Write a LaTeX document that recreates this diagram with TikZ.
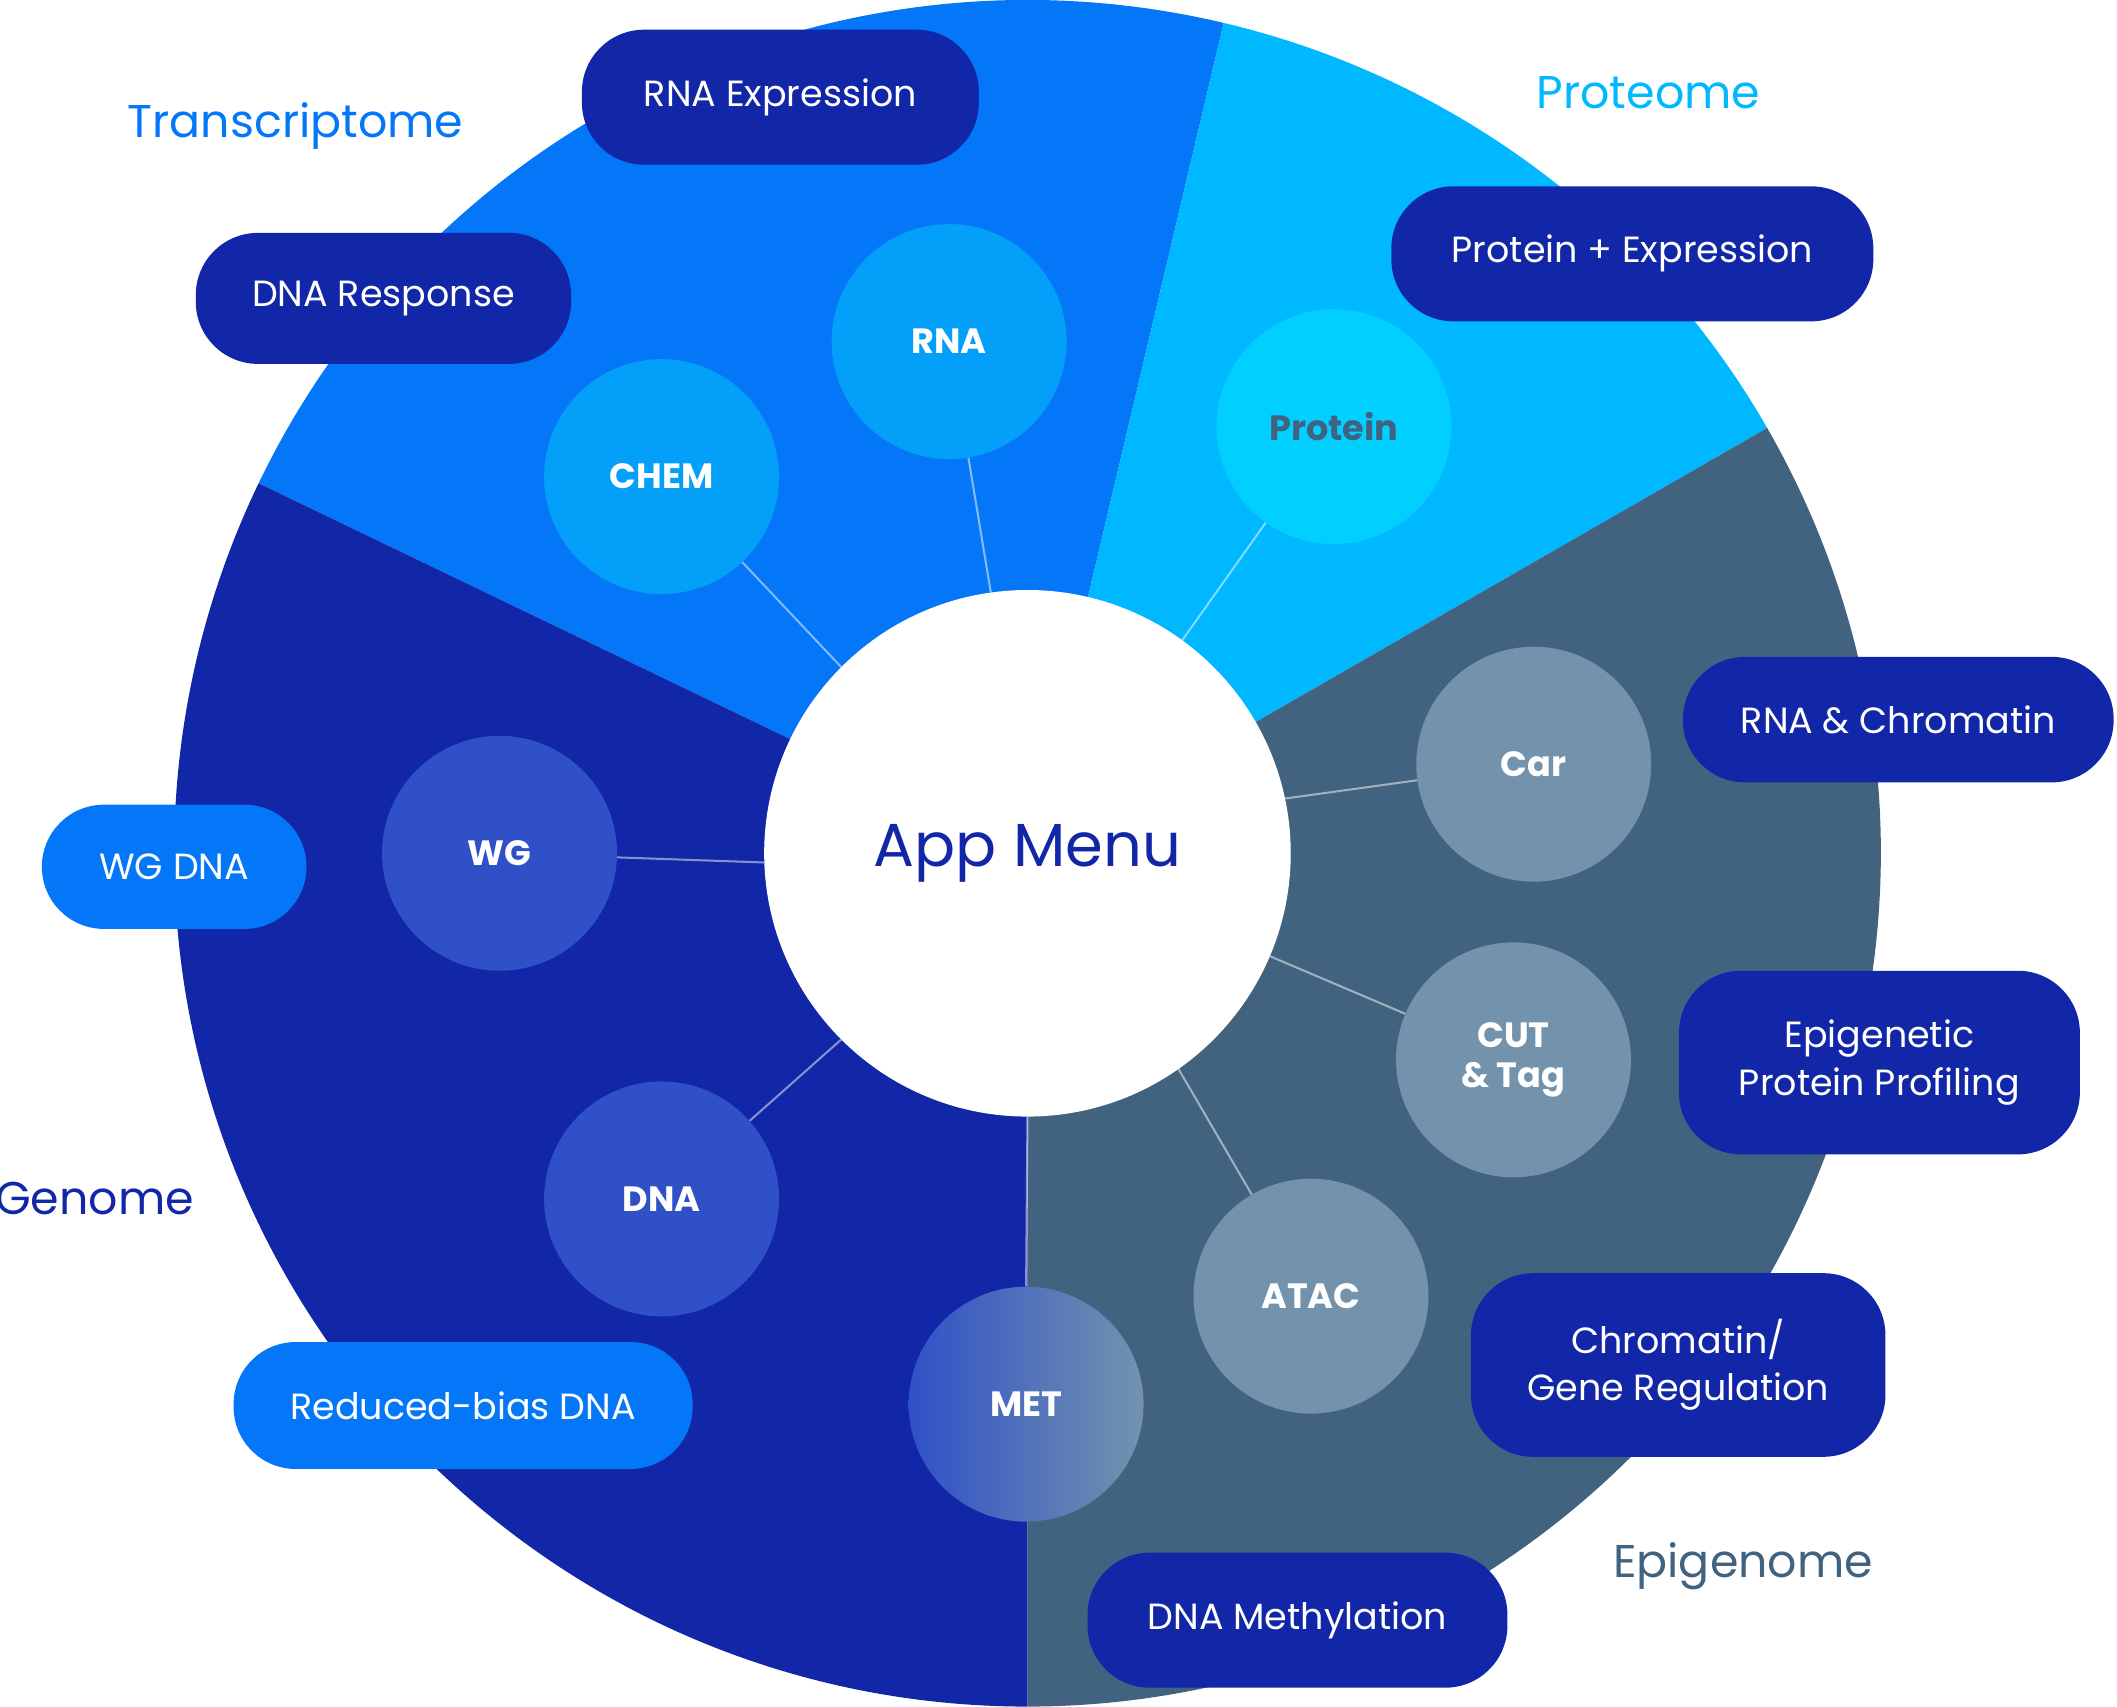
\documentclass[tikz,border=0pt]{standalone}
\usepackage{fontspec}
\setmainfont{Poppins}
\usetikzlibrary{positioning}
\definecolor{transc}{HTML}{0477F8}
\definecolor{proteo}{HTML}{00B8FF}
\definecolor{epigen}{HTML}{41637F}
\definecolor{genome}{HTML}{1226A8}
\definecolor{lightblue}{HTML}{049FF9}
\definecolor{cyanc}{HTML}{00CFFF}
\definecolor{grayc}{HTML}{7393AD}
\definecolor{midblue}{HTML}{3050C8}
\begin{document}
\begin{tikzpicture}[x=1pt, y=-1pt,
  pill/.style = {rounded corners=46pt, fill=genome, text=white, align=center,
                 font=\fontsize{27}{35}\selectfont, inner sep=0pt},
  bubble/.style = {circle, minimum size=174pt, inner sep=0pt, text=white,
                   font=\bfseries\fontsize{26}{30}\selectfont, align=center},
  link/.style = {draw=white, draw opacity=0.5, line width=1.5pt},
  region/.style = {font=\fontsize{34}{40}\selectfont}
]
  \useasboundingbox (0,0) rectangle (1568,1264);

  % sectors
  \coordinate (c) at (761,632);
  \fill[transc] (c) -- ++(-76.7:632) arc[start angle=-76.7, end angle=-154.3, radius=632] -- cycle;
  \fill[proteo] (c) -- ++(-29.9:632) arc[start angle=-29.9, end angle=-76.7, radius=632] -- cycle;
  \fill[epigen] (c) -- ++(-29.9:632) arc[start angle=-29.9, end angle=90, radius=632] -- cycle;
  \fill[genome] (c) -- ++(90:632) arc[start angle=90, end angle=205.7, radius=632] -- cycle;

  % hub
  \node[circle, fill=white, minimum size=390pt, inner sep=0pt, text=genome,
        font=\fontsize{45}{50}\selectfont] (menu) at (c) {App Menu};

  % bubbles
  \node[bubble, fill=lightblue] (chem) at (490,353) {CHEM};
  \node[bubble, fill=lightblue] (rna) at (703,253) {RNA};
  \node[bubble, fill=cyanc, text=epigen] (protein) at (988,316) {Protein};
  \node[bubble, fill=grayc] (car) at (1136,566) {Car};
  \node[bubble, fill=grayc] (cut) at (1121,785) {CUT\\[-1pt]\& Tag};
  \node[bubble, fill=grayc] (atac) at (971,960) {ATAC};
  \node[bubble, left color=midblue, right color=grayc] (met) at (760,1040) {MET};
  \node[bubble, fill=midblue] (wg) at (370,632) {WG};
  \node[bubble, fill=midblue] (dna) at (490,888) {DNA};

  % links
  \foreach \b/\a in {chem/135, rna/98, protein/54, car/12, cut/-23, atac/-55, wg/182, dna/-135}
    \draw[link] (menu.\a) -- (\b);
  \draw[link] (menu.south) -- (met.north);

  % pills
  \node[pill, minimum width=294pt, minimum height=100pt] (rnaexp) at (578,72) {RNA Expression};
  \node[pill, minimum width=278pt, minimum height=97pt] (dnaresp) at (284,221) {DNA Response};
  \node[pill, minimum width=357pt, minimum height=100pt] (protexp) at (1209,188) {Protein + Expression};
  \node[pill, minimum width=319pt, minimum height=93pt] (rnachrom) at (1406,533) {RNA \& Chromatin};
  \node[pill, minimum width=297pt, minimum height=136pt] (epiprot) at (1392,787) {Epigenetic\\Protein Profiling};
  \node[pill, minimum width=307pt, minimum height=136pt] (chromreg) at (1243,1011) {Chromatin/\\Gene Regulation};
  \node[pill, minimum width=311pt, minimum height=100pt] (dnameth) at (961,1200) {DNA Methylation};
  \node[pill, fill=transc, minimum width=340pt, minimum height=94pt] (redbias) at (343,1041) {Reduced-bias DNA};
  \node[pill, fill=transc, minimum width=196pt, minimum height=92pt] (wgdna) at (129,642) {WG DNA};

  % region labels
  \node[region, text=transc] (transcl) at (219,93) {Transcriptome};
  \node[region, text=proteo] (proteol) at (1221,69) {Proteome};
  \node[region, text=genome] (genomel) at (70,888) {Genome};
  \node[region, text=epigen] (epigenl) at (1291,1160) {Epigenome};
\end{tikzpicture}
\end{document}
